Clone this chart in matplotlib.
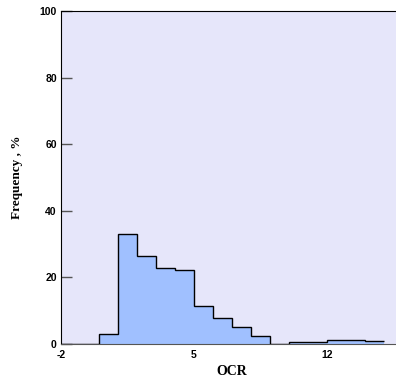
import numpy as np
import matplotlib.pyplot as plt

plt.rcParams['axes.unicode_minus'] = False

# OCR histogram, unit bins
edges = [-2, -1, 0, 1, 2, 3, 4, 5, 6, 7, 8, 9, 10, 11, 12, 13, 14, 15]
freq = [0, 0, 3.1, 33.1, 26.4, 22.8, 22.2, 11.4, 7.7, 5.1, 2.5, 0, 0.6, 0.6, 1.1, 1.1, 0.8]
xticks = [-2, 5, 12]
yticks = [0, 20, 40, 60, 80, 100]

fig = plt.figure(figsize=(3.96, 3.81), dpi=100)
ax = fig.add_axes([0.154, 0.097, 0.864, 0.874])
ax.set_facecolor('#e6e6fa')

ax.stairs(freq, edges, fill=True, color='#a0c0ff', baseline=0, zorder=2)
ax.stairs(freq, edges, color='black', lw=1.0, baseline=None, zorder=3)

ax.set_xlim(-2, 16)
ax.set_ylim(0, 100)
ax.set_xticks(xticks)
ax.set_yticks(yticks)
ax.tick_params(axis='x', length=0, pad=4)
ax.tick_params(axis='y', direction='in', length=8, width=1, color='#555555', pad=3)
for lab in ax.get_xticklabels() + ax.get_yticklabels():
    lab.set_fontfamily('Liberation Sans')
    lab.set_fontweight('bold')
    lab.set_fontsize(7.5)

ax.spines['right'].set_visible(False)
ax.spines['bottom'].set_color('#555555')

ax.set_xlabel('OCR', fontfamily='Liberation Serif', fontweight='bold', fontsize=10, labelpad=4)
ax.set_ylabel('Frequency , %', fontfamily='Liberation Serif', fontweight='bold', fontsize=9.5, labelpad=12)

fig.savefig('out.png', dpi=100)
